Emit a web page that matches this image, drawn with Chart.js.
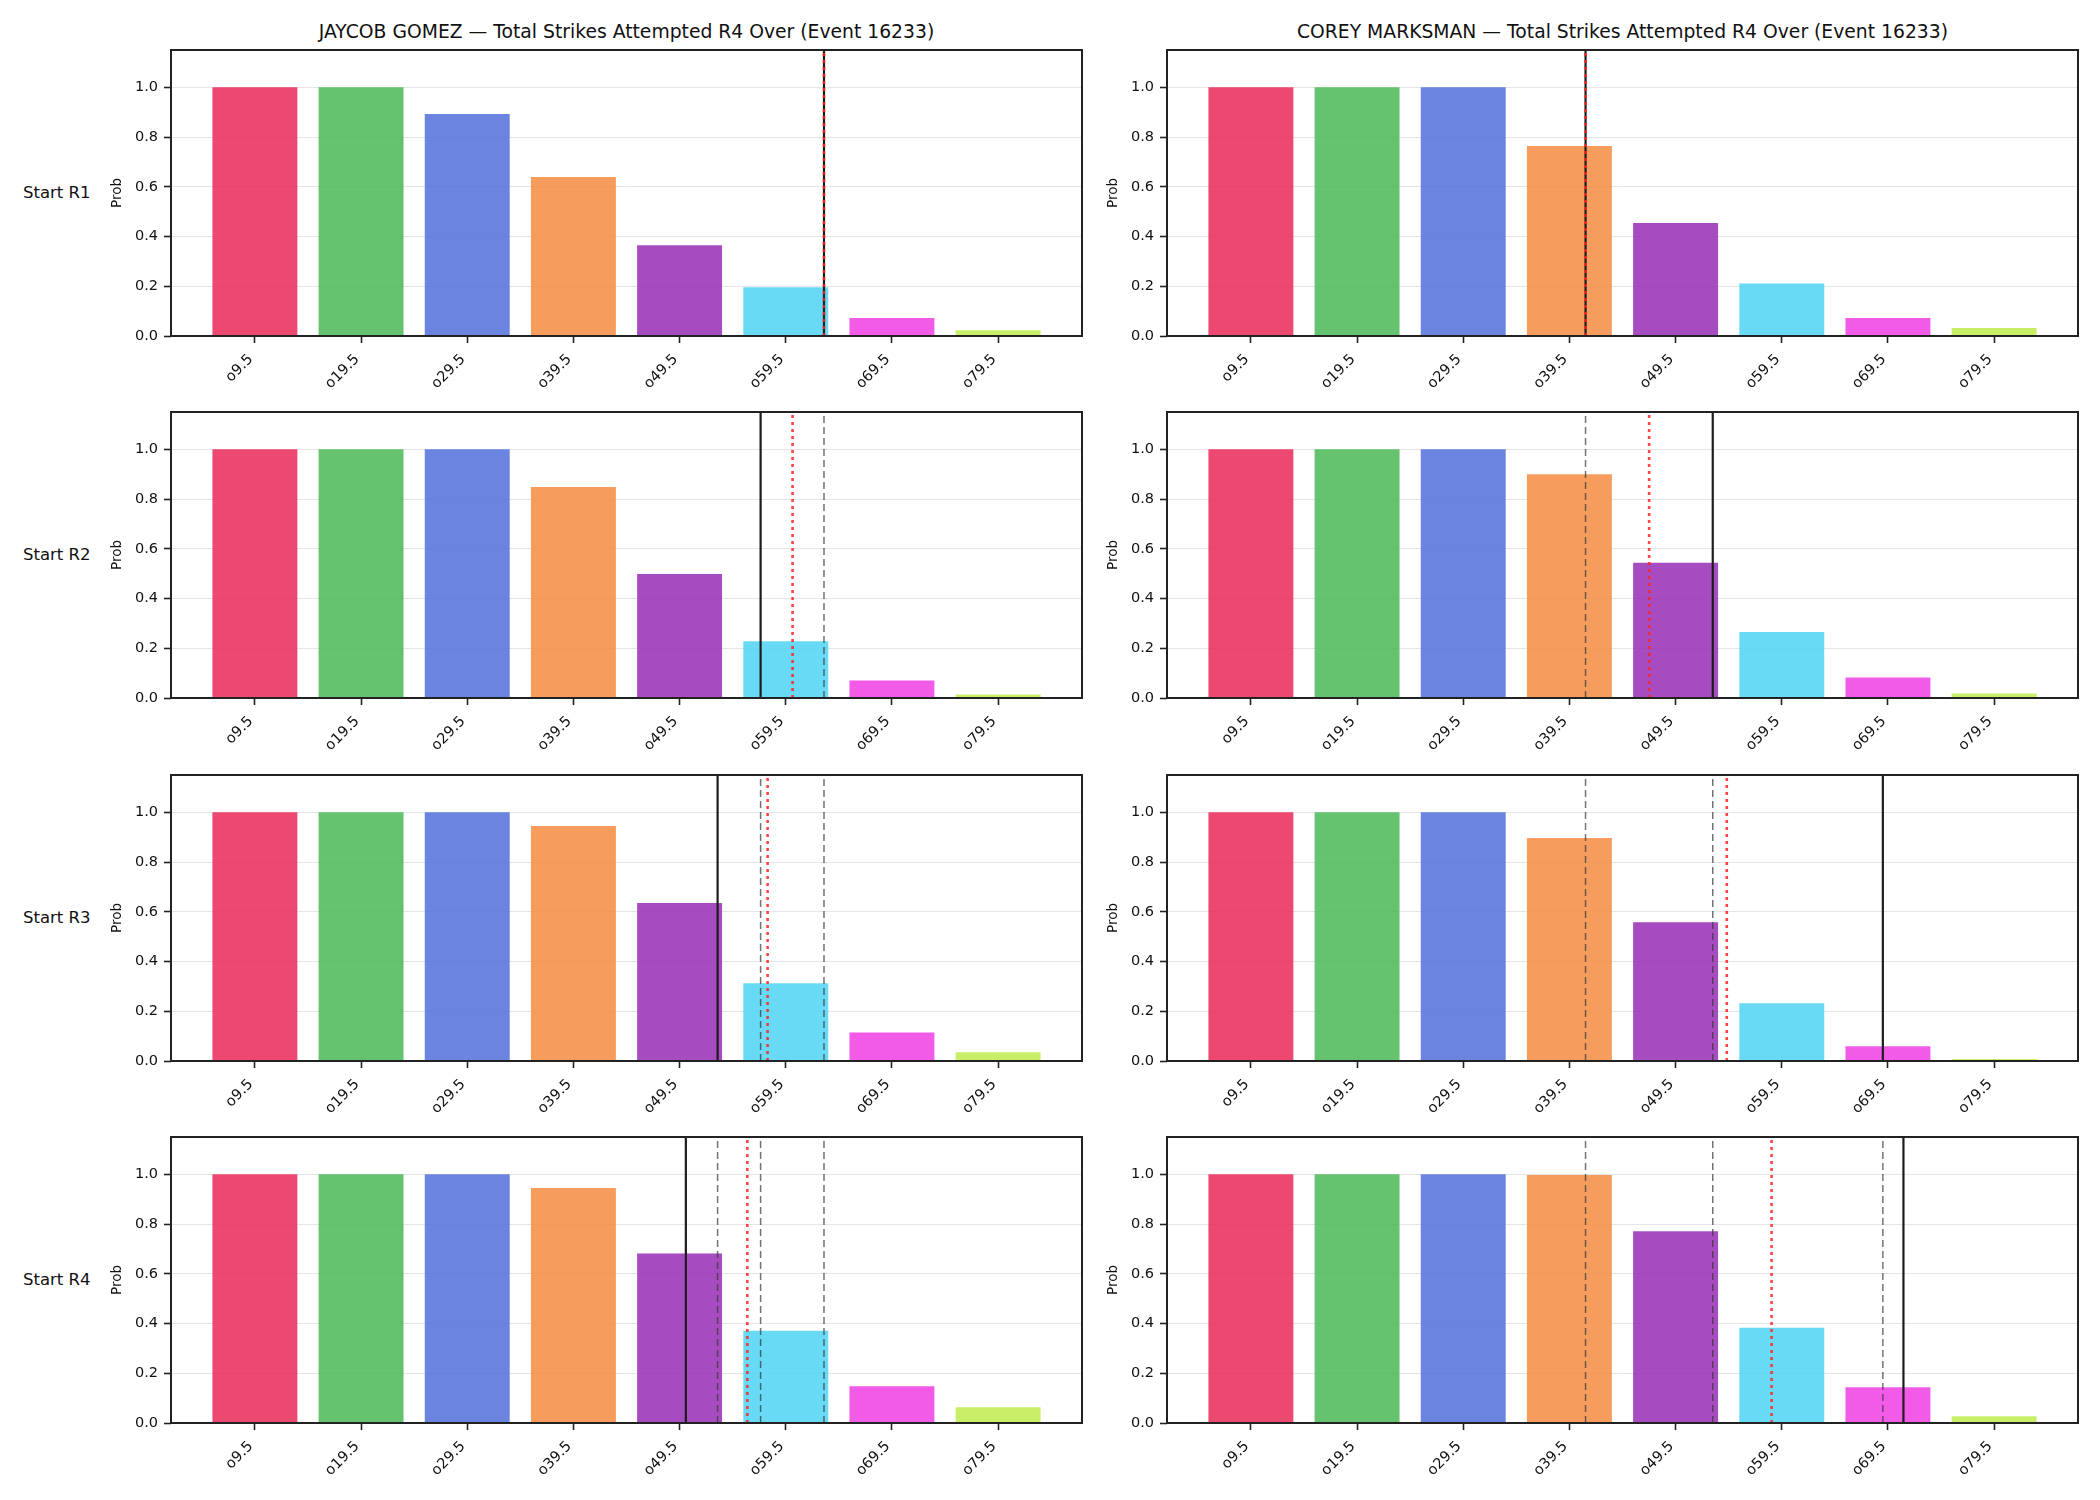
<!DOCTYPE html>
<html>
<head>
<meta charset="utf-8">
<script src="https://cdn.jsdelivr.net/npm/chart.js@4.4.1/dist/chart.umd.min.js"></script>
<style>
  html, body { margin: 0; padding: 0; background: #fff; }
  #fig { position: relative; width: 2100px; height: 1500px; background: #fff; font-family: "DejaVu Sans", sans-serif; color: #111; overflow: hidden; }
  .title { position: absolute; top: 20px; width: 912px; text-align: center; font-size: 18.75px; line-height: 24px; white-space: nowrap; }
  .rowlab { position: absolute; left: 23px; font-size: 16.5px; line-height: 20px; white-space: nowrap; }
  canvas { position: absolute; }
</style>
</head>
<body>
<div id="fig"></div>
<script>
const categories = ['o9.5', 'o19.5', 'o29.5', 'o39.5', 'o49.5', 'o59.5', 'o69.5', 'o79.5'];
const rowLabels = ['Start R1', 'Start R2', 'Start R3', 'Start R4'];
const players = ['JAYCOB GOMEZ', 'COREY MARKSMAN'];
const yTicks = [0, 0.2, 0.4, 0.6, 0.8, 1.0];

// over probabilities, one array per start round
const gomezR1 = [1.0, 1.0, 0.893, 0.639, 0.365, 0.196, 0.072, 0.023];
const gomezR2 = [1.0, 1.0, 1.0, 0.848, 0.499, 0.228, 0.070, 0.014];
const gomezR3 = [1.0, 1.0, 1.0, 0.945, 0.635, 0.313, 0.115, 0.035];
const gomezR4 = [1.0, 1.0, 1.0, 0.945, 0.682, 0.371, 0.148, 0.063];

const coreyR1 = [1.0, 1.0, 1.0, 0.764, 0.454, 0.211, 0.072, 0.032];
const coreyR2 = [1.0, 1.0, 1.0, 0.900, 0.544, 0.265, 0.082, 0.018];
const coreyR3 = [1.0, 1.0, 1.0, 0.897, 0.558, 0.232, 0.059, 0.008];
const coreyR4 = [1.0, 1.0, 1.0, 0.997, 0.771, 0.383, 0.144, 0.027];

// vertical markers, in category-index units (black = projection, red = line)
const gomezProj = [5.36, 4.763, 4.358, 4.059];
const gomezMark = [5.36, 5.064, 4.829, 4.638];
const coreyProj = [3.152, 4.35, 5.952, 6.146];
const coreyMark = [3.152, 3.751, 4.482, 4.904];

const barColors = [
    'rgba(233, 40, 87, 0.85)',
    'rgba(74, 184, 86, 0.85)',
    'rgba(81, 110, 217, 0.85)',
    'rgba(244, 139, 63, 0.85)',
    'rgba(150, 44, 181, 0.85)',
    'rgba(77, 212, 243, 0.85)',
    'rgba(240, 61, 228, 0.85)',
    'rgba(192, 236, 77, 0.85)'
];

const colLeft = [171, 1167];
const rowTop = [50, 412, 775, 1137];
const PLOT_W = 911, PLOT_H = 286;
const Y_AXIS_W = 62, X_AXIS_H = 64, PAD_T = 10, PAD_R = 20;
const Y_MAX = 1.15;

const fig = document.getElementById('fig');

const framePlugin = {
    id: 'frame',
    afterDraw(chart) {
        const {ctx, chartArea: a} = chart;
        ctx.save();
        ctx.strokeStyle = '#222';
        ctx.lineWidth = 2;
        ctx.strokeRect(a.left, a.top, a.right - a.left, a.bottom - a.top);
        ctx.restore();
    }
};

function vline(p, color, width, dash, order) {
    return {
        type: 'line',
        data: [{x: p, y: 0}, {x: p, y: Y_MAX}],
        borderColor: color,
        borderWidth: width,
        borderDash: dash,
        pointRadius: 0,
        fill: false,
        order: order
    };
}

function drawPanel(col, row, probs, proj, mark, prev) {
    let cv = document.createElement('canvas');
    cv.width = Y_AXIS_W + PLOT_W + PAD_R;
    cv.height = PAD_T + PLOT_H + X_AXIS_H;
    cv.style.left = (colLeft[col] - Y_AXIS_W) + 'px';
    cv.style.top = (rowTop[row] - PAD_T) + 'px';
    fig.appendChild(cv);

    let datasets = [{
        type: 'bar',
        data: probs.map((v, i) => ({x: i, y: v})),
        backgroundColor: barColors,
        borderWidth: 0,
        barPercentage: 0.8,
        categoryPercentage: 1.0,
        order: 10
    }];
    prev.forEach(p => datasets.push(vline(p, 'rgba(55, 55, 55, 0.7)', 1.5, [7, 4], 2)));
    datasets.push(vline(proj, '#1c1c1c', 2.2, [], 3));
    datasets.push(vline(mark, 'rgba(255, 35, 35, 0.85)', 2.6, [3, 4], 1));

    new Chart(cv, {
        type: 'bar',
        data: {datasets: datasets},
        plugins: [framePlugin],
        options: {
            responsive: false,
            animation: false,
            devicePixelRatio: 1,
            layout: {padding: {left: 0, right: PAD_R, top: PAD_T, bottom: 0}},
            plugins: {legend: {display: false}, tooltip: {enabled: false}},
            scales: {
                x: {
                    type: 'linear',
                    min: -0.79,
                    max: 7.79,
                    offset: false,
                    afterBuildTicks: ax => { ax.ticks = categories.map((c, i) => ({value: i})); },
                    afterFit: ax => { ax.height = X_AXIS_H; ax.paddingLeft = 0; ax.paddingRight = 0; },
                    grid: {drawOnChartArea: false, offset: false, tickLength: 7, tickColor: '#222', tickWidth: 1.6},
                    border: {display: false},
                    ticks: {
                        autoSkip: false,
                        minRotation: 45,
                        maxRotation: 45,
                        padding: 8,
                        labelOffset: -4,
                        color: '#111',
                        font: {family: 'DejaVu Sans', size: 14.5},
                        callback: v => categories[Math.round(v)]
                    }
                },
                y: {
                    min: 0,
                    max: Y_MAX,
                    afterBuildTicks: ax => { ax.ticks = yTicks.map(v => ({value: v})); },
                    afterFit: ax => { ax.width = Y_AXIS_W; ax.paddingTop = 0; ax.paddingBottom = 0; },
                    grid: {color: 'rgba(0, 0, 0, 0.1)', lineWidth: 1, tickLength: 7, tickColor: '#222', tickWidth: 1.6},
                    border: {display: false},
                    ticks: {
                        padding: 6,
                        color: '#111',
                        font: {family: 'DejaVu Sans', size: 14.5},
                        callback: v => v.toFixed(1)
                    },
                    title: {display: true, text: 'Prob', padding: 0, color: '#111', font: {family: 'DejaVu Sans', size: 13.5}}
                }
            }
        }
    });
}

players.forEach((name, c) => {
    let t = document.createElement('div');
    t.className = 'title';
    t.style.left = colLeft[c] + 'px';
    t.style.width = PLOT_W + 'px';
    t.textContent = name + ' \u2014 Total Strikes Attempted R4 Over (Event 16233)';
    fig.appendChild(t);
});

rowLabels.forEach((lab, r) => {
    let d = document.createElement('div');
    d.className = 'rowlab';
    d.style.top = (rowTop[r] + PLOT_H / 2 - 10) + 'px';
    d.textContent = lab;
    fig.appendChild(d);
});

const gomezRows = [gomezR1, gomezR2, gomezR3, gomezR4];
const coreyRows = [coreyR1, coreyR2, coreyR3, coreyR4];

for (let r = 0; r < 4; r++) {
    drawPanel(0, r, gomezRows[r], gomezProj[r], gomezMark[r], gomezProj.slice(0, r));
    drawPanel(1, r, coreyRows[r], coreyProj[r], coreyMark[r], coreyProj.slice(0, r));
}
</script>
</body>
</html>
